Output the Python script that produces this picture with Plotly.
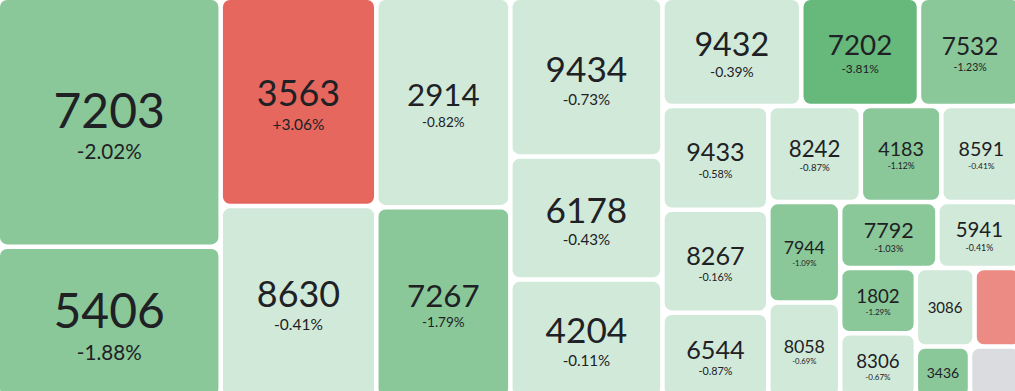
import plotly.graph_objects as go

# ---- data ----
codes = ["7203", "5406", "3563", "8630", "2914", "7267", "9434", "6178", "4204",
         "9432", "7202", "7532", "9433", "8267", "6544", "8242", "4183", "8591",
         "7944", "8058", "7792", "5941", "1802", "8306", "3086", "other-up", "3436", "other-flat"]
weights = [54500, 33200, 31850, 29370, 27570, 25160, 23710, 18410, 17730,
           14750, 12510, 10870, 10800, 10700, 8900, 8740, 7600, 7550,
           7080, 6760, 6300, 5430, 4850, 4830, 4530, 3600, 2750, 2600]
changes = [-2.02, -1.88, 3.06, -0.41, -0.82, -1.79, -0.73, -0.43, -0.11,
           -0.39, -3.81, -1.23, -0.58, -0.16, -0.87, -0.87, -1.12, -0.41,
           -1.09, -0.69, -1.03, -0.41, -1.29, -0.67, -0.50, 1.50, -1.20, 0.00]

# the map is slightly larger than the visible window (right/bottom tiles are cut off)
W, H = 1019, 396
GAP = 4.5
FONT = "Lato, 'Open Sans', sans-serif"


def tile_color(c):
    if c >= 2:
        return "#e6675e"
    if c > 0:
        return "#ec8a84"
    if c == 0:
        return "#dadce0"
    if c > -1:
        return "#d1e9d9"
    if c > -3:
        return "#8ac899"
    return "#67b87b"


def squarify_sizes(vals, width, height, pad, ratio=1.0):
    """Mirror of d3 squarify (as used by plotly) to learn each tile's size for text sizing."""
    n = len(vals)
    p = pad / 2
    x0, y0, x1, y1 = -p, -p, width + p, height + p
    order = sorted(range(n), key=lambda i: -vals[i])
    nodes = [vals[i] for i in order]
    value = float(sum(nodes))
    sizes = [None] * n
    i0 = i1 = 0
    while i0 < n:
        dx, dy = x1 - x0, y1 - y0
        s = nodes[i1]
        i1 += 1
        mn = mx = s
        alpha = max(dy / dx, dx / dy) / (value * ratio)
        beta = s * s * alpha
        min_r = max(mx / beta, beta / mn)
        while i1 < n:
            nv = nodes[i1]
            s += nv
            mn = min(mn, nv)
            mx = max(mx, nv)
            beta = s * s * alpha
            new_r = max(mx / beta, beta / mn)
            if new_r > min_r:
                s -= nv
                break
            min_r = new_r
            i1 += 1
        if dx < dy:
            ny = y0 + dy * s / value
            for k in range(i0, i1):
                sizes[order[k]] = (dx * nodes[k] / s - pad, ny - y0 - pad)
            y0 = ny
        else:
            nx = x0 + dx * s / value
            for k in range(i0, i1):
                sizes[order[k]] = (nx - x0 - pad, dy * nodes[k] / s - pad)
            x0 = nx
        value -= s
        i0 = i1
    return sizes


sizes = squarify_sizes(weights, W, H, GAP)


def label_size(w, h):
    return min(48.0, 0.216 * w + 3.3, 0.35 * h)


texts = []
for code, ch, (w, h) in zip(codes, changes, sizes):
    big = label_size(w, h)
    small = 0.43 * big
    if w < 47:
        texts.append("")
    elif w < 62 or h < 50:
        texts.append(f"<span style='font-size:{big:.1f}px'>{code}</span>")
    else:
        pct = f"{ch:+.2f}%"
        texts.append(f"<span style='font-size:{big:.1f}px'>{code}</span><br>"
                     f"<span style='font-size:{small:.1f}px'>{pct}</span>")

# base size drives the line spacing between the code and the change
base_sizes = [max(6.0, 0.5 * label_size(w, h)) for (w, h) in sizes]

fig = go.Figure(go.Treemap(
    labels=codes,
    parents=[""] * len(codes),
    values=weights,
    text=texts,
    texttemplate="%{text}",
    textposition="middle center",
    textfont=dict(family=FONT, color="#202124", size=base_sizes),
    marker=dict(colors=[tile_color(c) for c in changes],
                line=dict(width=0),
                cornerradius=7,
                pad=dict(t=0, l=0, r=0, b=0)),
    tiling=dict(packing="squarify", squarifyratio=1, pad=GAP),
    pathbar=dict(visible=False),
    sort=True,
    hoverinfo="label+value",
))

fig.update_layout(width=W, height=H, margin=dict(l=0, r=0, t=0, b=0),
                  paper_bgcolor="white", font=dict(family=FONT))

fig.write_html("out.html", config={"responsive": False, "displayModeBar": False},
               post_script="document.body.style.margin='0';"
                           "document.body.style.overflow='hidden';"
                           "document.documentElement.style.overflow='hidden';")
